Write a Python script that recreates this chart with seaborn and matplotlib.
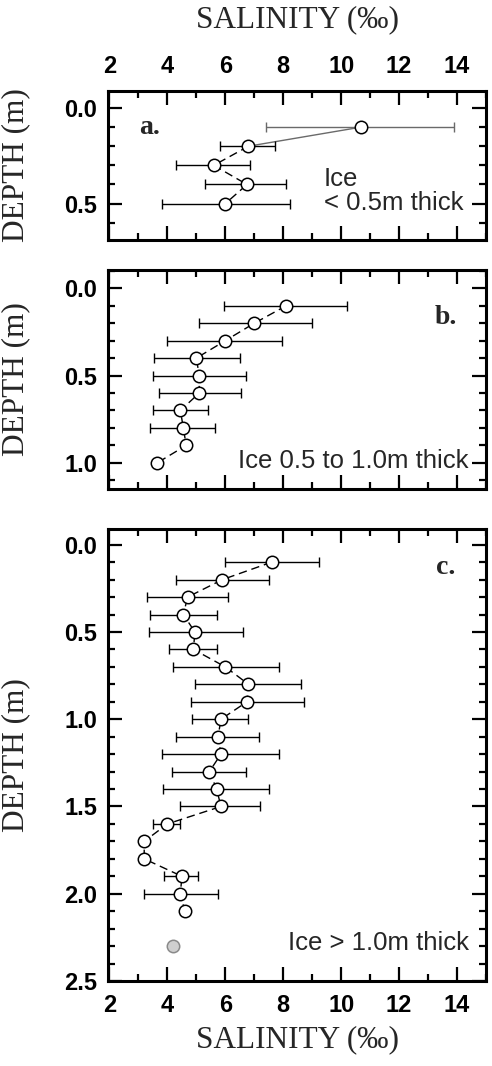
import numpy as np
import pandas as pd
import matplotlib
matplotlib.use("Agg")
import matplotlib.pyplot as plt
import seaborn as sns
from matplotlib.ticker import MultipleLocator, FormatStrFormatter

# ---------------- data ----------------
# Panel a: ice < 0.5 m thick
depth_a = [0.1, 0.2, 0.3, 0.4, 0.5]
sal_a = [10.7, 6.8, 5.6, 6.75, 6.0]
lo_a = [7.4, 5.8, 4.3, 5.3, 3.8]
hi_a = [13.9, 7.7, 6.85, 8.1, 8.25]

# Panel b: ice 0.5 to 1.0 m thick
depth_b = [0.1, 0.2, 0.3, 0.4, 0.5, 0.6, 0.7, 0.8, 0.9, 1.0]
sal_b = [8.1, 7.0, 6.0, 5.0, 5.1, 5.1, 4.45, 4.55, 4.65, 3.65]
lo_b = [5.95, 5.1, 4.0, 3.55, 3.5, 3.7, 3.5, 3.4, np.nan, np.nan]
hi_b = [10.2, 9.0, 7.95, 6.5, 6.7, 6.55, 5.4, 5.65, np.nan, np.nan]

# Panel c: ice > 1.0 m thick
depth_c = [0.1, 0.2, 0.3, 0.4, 0.5, 0.6, 0.7, 0.8, 0.9, 1.0, 1.1,
           1.2, 1.3, 1.4, 1.5, 1.6, 1.7, 1.8, 1.9, 2.0, 2.1]
sal_c = [7.6, 5.9, 4.7, 4.55, 4.95, 4.9, 6.0, 6.8, 6.75, 5.85, 5.75,
         5.85, 5.45, 5.7, 5.85, 4.0, 3.2, 3.2, 4.5, 4.45, 4.6]
lo_c = [6.0, 4.3, 3.3, 3.4, 3.35, 4.05, 4.2, 4.95, 4.8, 4.85, 4.3,
        3.8, 4.15, 3.85, 4.45, 3.5, np.nan, np.nan, 3.9, 3.2, np.nan]
hi_c = [9.25, 7.5, 6.1, 5.7, 6.6, 5.7, 7.85, 8.6, 8.7, 6.8, 7.15,
        7.85, 6.7, 7.5, 7.2, 4.45, np.nan, np.nan, 5.05, 5.75, np.nan]
extra_depth_c = [2.3]
extra_sal_c = [4.2]

x_ticks = [2, 4, 6, 8, 10, 12, 14]

# ---------------- style ----------------
sns.set_theme(style="ticks")
plt.rcParams['font.family'] = ['Liberation Sans', 'DejaVu Sans']
plt.rcParams['font.weight'] = 'bold'
plt.rcParams['axes.edgecolor'] = 'black'
plt.rcParams['xtick.color'] = 'black'
plt.rcParams['ytick.color'] = 'black'

W, H = 492, 1066
fig = plt.figure(figsize=(W / 100, H / 100), dpi=100)
fig.patch.set_facecolor('white')

L, R = 108, 486


def add_ax(top, bottom):
    return fig.add_axes([L / W, 1 - bottom / H, (R - L) / W, (bottom - top) / H])


ax_a = add_ax(90.7, 240)
ax_b = add_ax(270, 489)
ax_c = add_ax(529, 981)

DASH = (0, (6, 3.5))
MS = 80


def draw_profile(ax, depth, sal, lo, hi, line_from=0, ecolors=None):
    df = pd.DataFrame(dict(depth=depth, sal=sal, lo=lo, hi=hi))
    m = df['lo'].notna()
    d = df[m]
    cols = ['black'] * len(d) if ecolors is None else [ecolors[i] for i in np.where(m)[0]]
    for (_, r), c in zip(d.iterrows(), cols):
        ax.errorbar([r.sal], [r.depth], xerr=[[r.sal - r.lo], [r.hi - r.sal]], fmt='none',
                    ecolor=c, elinewidth=1.0, capsize=3.5, capthick=1.0, zorder=2)
    sns.lineplot(data=df.iloc[line_from:], x='sal', y='depth', sort=False, estimator=None,
                 color='black', linewidth=1.0, linestyle=DASH, ax=ax, zorder=1)
    sns.scatterplot(data=df, x='sal', y='depth', s=MS, color='white', edgecolor='black',
                    linewidth=1.1, ax=ax, zorder=3)


# panel a: first segment gray, solid
draw_profile(ax_a, depth_a, sal_a, lo_a, hi_a, line_from=1,
             ecolors=['#6a6a6a', 'black', 'black', 'black', 'black'])
sns.lineplot(x=sal_a[:2], y=depth_a[:2], sort=False, estimator=None, color='#6a6a6a',
             linewidth=1.0, ax=ax_a, zorder=1)
draw_profile(ax_b, depth_b, sal_b, lo_b, hi_b)
draw_profile(ax_c, depth_c, sal_c, lo_c, hi_c)
sns.scatterplot(x=extra_sal_c, y=extra_depth_c, s=MS, color='#cfcfcf', edgecolor='#8a8a8a',
                linewidth=1.1, ax=ax_c, zorder=3)

ylims = {ax_a: (0.69, -0.09), ax_b: (1.15, -0.105), ax_c: (2.5, -0.09)}
for ax in (ax_a, ax_b, ax_c):
    ax.set_xlim(1.95, 15)
    ax.set_ylim(*ylims[ax])
    ax.set_xticks(x_ticks)
    ax.xaxis.set_minor_locator(MultipleLocator(1))
    ax.yaxis.set_major_locator(MultipleLocator(0.5))
    ax.yaxis.set_minor_locator(MultipleLocator(0.1))
    ax.yaxis.set_major_formatter(FormatStrFormatter('%.1f'))
    ax.tick_params(which='both', direction='in', top=True, right=True, bottom=True, left=True,
                   width=1.6, labelsize=17, colors='black')
    ax.tick_params(which='major', length=10)
    ax.tick_params(which='minor', length=5)
    ax.tick_params(axis='y', pad=8)
    ax.tick_params(axis='x', pad=9)
    for s in ax.spines.values():
        s.set_linewidth(2.2)
        s.set_color('black')
    ax.set_facecolor('white')
    ax.set_ylabel('DEPTH (m)', fontfamily='Liberation Serif', fontsize=22.5, fontweight='normal')
    ax.yaxis.set_label_coords(-0.205, 0.5)
    ax.set_xlabel('')

ax_a.tick_params(axis='x', labeltop=True, labelbottom=False)
ax_b.tick_params(axis='x', labeltop=False, labelbottom=False)
ax_c.tick_params(axis='x', labeltop=False, labelbottom=True)

ax_a.xaxis.set_label_position('top')
ax_a.set_xlabel('SALINITY (‰)', fontfamily='Liberation Serif', fontsize=22.5, fontweight='normal')
ax_a.xaxis.set_label_coords(0.5, 1 + (90.7 - 20) / (240 - 90.7))
ax_a.xaxis.label.set_va('center')
ax_c.set_xlabel('SALINITY (‰)', fontfamily='Liberation Serif', fontsize=22.5, fontweight='normal')
ax_c.xaxis.set_label_coords(0.5, -(1040 - 981) / (981 - 529))
ax_c.xaxis.label.set_va('center')

# panel letters and ice annotations
serif_b = dict(fontfamily='Liberation Serif', fontweight='bold', fontsize=20)
ax_a.text(3.4, 0.10, 'a.', ha='center', va='center', **serif_b)
ax_b.text(13.6, 0.17, 'b.', ha='center', va='center', **serif_b)
ax_c.text(13.6, 0.13, 'c.', ha='center', va='center', **serif_b)

sans = dict(fontfamily='Liberation Sans', fontweight='normal', fontsize=18.5)
ax_a.text(9.4, 0.435, 'Ice\n< 0.5m thick', ha='left', va='center', linespacing=1.0, **sans)
ax_b.text(14.4, 0.99, 'Ice 0.5 to 1.0m thick', ha='right', va='center', **sans)
ax_c.text(14.4, 2.28, 'Ice > 1.0m thick', ha='right', va='center', **sans)

fig.savefig('out.png', dpi=100, facecolor='white')
